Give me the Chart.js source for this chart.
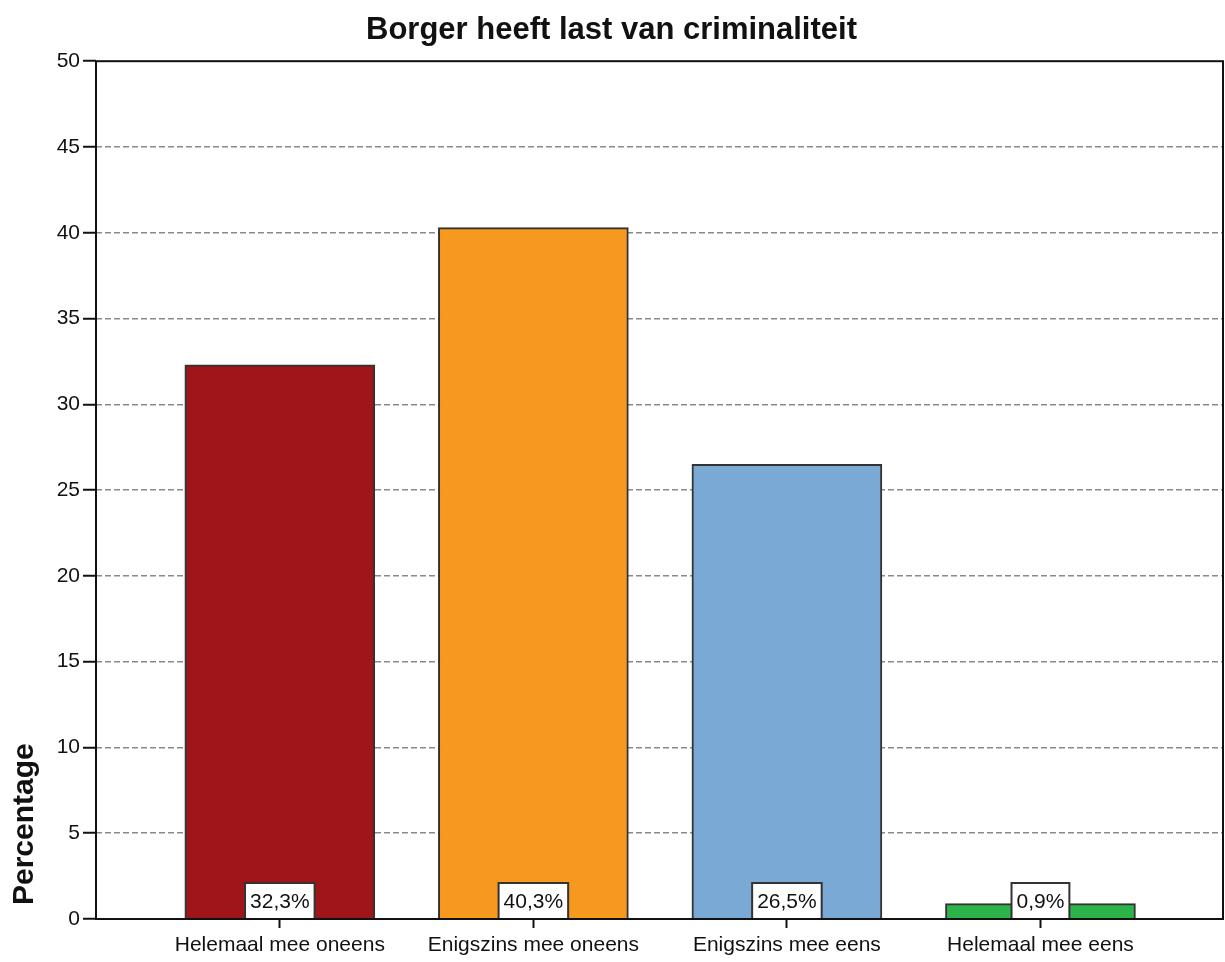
<!DOCTYPE html>
<html><head><meta charset="utf-8">
<script src="https://cdn.jsdelivr.net/npm/chart.js@4"></script>
<style>html,body{margin:0;padding:0;background:#fff}#wrap{width:1225px;height:962px}</style>
</head><body><div id="wrap"><canvas id="c" width="1225" height="962"></canvas></div>
<script>
const categories = ["Helemaal mee oneens", "Enigszins mee oneens", "Enigszins mee eens", "Helemaal mee eens"];
const percentages = [32.3, 40.3, 26.5, 0.9];
const valueLabels = ["32,3%", "40,3%", "26,5%", "0,9%"];
const yTicks = [0, 5, 10, 15, 20, 25, 30, 35, 40, 45, 50];
const barColors = ["#A0151A", "#F7991F", "#7BA9D5", "#2CB44A"];
const yTitle = "Percentage";

const FONT = "'Liberation Sans', Arial, sans-serif";

const boxPlugin = {
  id: 'boxes',
  afterDatasetsDraw(chart) {
    const ctx = chart.ctx, xs = chart.scales.x, ys = chart.scales.y;
    ctx.save();
    ctx.font = "21px " + FONT;
    ctx.textAlign = 'center'; ctx.textBaseline = 'middle';
    percentages.forEach((v, i) => {
      const cx = xs.getPixelForValue(i);
      const by = ys.getPixelForValue(0);
      const w = ctx.measureText(valueLabels[i]).width + 10;
      const h = 36;
      ctx.fillStyle = '#fff';
      ctx.fillRect(cx - w/2, by - h, w, h);
      ctx.strokeStyle = '#333'; ctx.lineWidth = 2;
      ctx.strokeRect(cx - w/2, by - h, w, h);
      ctx.fillStyle = '#111';
      ctx.fillText(valueLabels[i], cx, by - h/2 + 1);
    });
    ctx.restore();
  },
  afterDraw(chart) {
    const ctx = chart.ctx, a = chart.chartArea;
    ctx.save();
    ctx.strokeStyle = '#111'; ctx.lineWidth = 2;
    ctx.strokeRect(a.left, a.top, a.right - a.left, a.bottom - a.top);
    ctx.translate(25, a.bottom - 14);
    ctx.rotate(-Math.PI / 2);
    ctx.font = "bold 30px " + FONT;
    ctx.fillStyle = '#111';
    ctx.textAlign = 'left'; ctx.textBaseline = 'middle';
    ctx.fillText(yTitle, 0, 0);
    ctx.restore();
  }
};

new Chart(document.getElementById('c'), {
  type: 'bar',
  data: {
    datasets: [{
      data: percentages.map((v, i) => ({x: i, y: v})),
      backgroundColor: barColors,
      borderColor: '#333',
      borderWidth: 2,
      borderSkipped: 'bottom',
      barThickness: 190
    }]
  },
  options: {
    responsive: false,
    animation: false,
    layout: {padding: {left: 0, right: 2, top: 0, bottom: 0}},
    plugins: {
      legend: {display: false},
      tooltip: {enabled: false},
      title: {display: true, text: 'Borger heeft last van criminaliteit', color: '#111',
        font: {family: FONT, size: 31, weight: 'bold'}, padding: {top: 12, bottom: 12}}
    },
    scales: {
      x: {
        type: 'linear', min: -0.725, max: 3.72, offset: false,
        afterBuildTicks(s) { s.ticks = categories.map((c, i) => ({value: i})); },
        afterFit(s) { s.height = 43; },
        ticks: {callback: (v) => categories[v] ?? '', color: '#111', font: {family: FONT, size: 21}, padding: 5, maxRotation: 0, autoSkip: false},
        grid: {offset: false, drawOnChartArea: false, tickLength: 9, tickColor: '#111', tickWidth: 2},
        border: {display: false}
      },
      y: {
        min: 0, max: 50,
        afterBuildTicks(s) { s.ticks = yTicks.map(v => ({value: v})); },
        afterFit(s) { s.width = 96; },
        ticks: {color: '#111', font: {family: FONT, size: 21}, padding: 3},
        grid: {
          color: (c) => (c.tick && (c.tick.value === 0 || c.tick.value === 50)) ? 'rgba(0,0,0,0)' : '#8a8a8a',
          lineWidth: 1.5, tickLength: 13, tickColor: '#111', tickWidth: 2
        },
        border: {display: false, dash: [6, 3]}
      }
    }
  },
  plugins: [boxPlugin]
});
</script></body></html>
